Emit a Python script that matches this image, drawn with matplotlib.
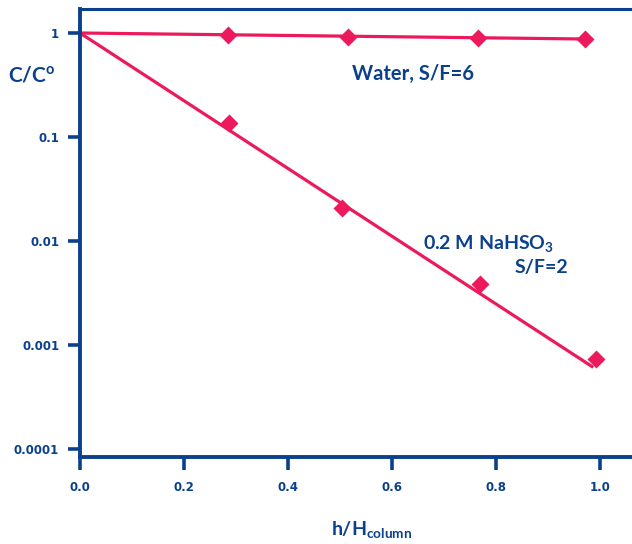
import matplotlib
matplotlib.use("Agg")
import matplotlib.pyplot as plt
from matplotlib.ticker import FixedLocator, FixedFormatter, NullLocator

plt.rcParams['mathtext.fontset'] = 'custom'
plt.rcParams['mathtext.rm'] = 'Lato:bold'
plt.rcParams['mathtext.it'] = 'Lato:bold'
plt.rcParams['mathtext.bf'] = 'Lato:bold'

# data
water_x = [0.285, 0.515, 0.765, 0.972]
water_y = [0.96, 0.92, 0.90, 0.88]
water_fit_x = [0.0, 0.975]
water_fit_y = [1.0, 0.875]

nahso3_x = [0.287, 0.504, 0.769, 0.992]
nahso3_y = [0.136, 0.0208, 0.00386, 0.00073]
nahso3_fit_x = [0.0, 0.987]
nahso3_fit_y = [1.0, 0.00061]

xticks = [0.0, 0.2, 0.4, 0.6, 0.8, 1.0]
xticklabels = ["0.0", "0.2", "0.4", "0.6", "0.8", "1.0"]
yticks = [1, 0.1, 0.01, 0.001, 0.0001]
yticklabels = ["1", "0.1", "0.01", "0.001", "0.0001"]

BLUE = '#0b408c'
PINK = '#ec1a5c'

fig = plt.figure(figsize=(6.32, 5.44), dpi=100)
ax = fig.add_axes([80/632, 1-457/544, 552/632, (457-9)/544])

ax.plot(water_fit_x, water_fit_y, color=PINK, lw=2.3, solid_capstyle='butt')
ax.plot(nahso3_fit_x, nahso3_fit_y, color=PINK, lw=2.3, solid_capstyle='butt')
ax.plot(water_x, water_y, 'D', color=PINK, ms=9, mec='none')
ax.plot(nahso3_x, nahso3_y, 'D', color=PINK, ms=9, mec='none')

ax.set_yscale('log')
ax.set_xlim(0, 552/520)
ax.set_ylim(10**(-4 - 8/104), 10**(24/104))

ax.xaxis.set_major_locator(FixedLocator(xticks))
ax.xaxis.set_major_formatter(FixedFormatter(xticklabels))
ax.yaxis.set_major_locator(FixedLocator(yticks))
ax.yaxis.set_major_formatter(FixedFormatter(yticklabels))
ax.yaxis.set_minor_locator(NullLocator())
ax.xaxis.set_minor_locator(NullLocator())

for s in ['left', 'bottom']:
    ax.spines[s].set_color(BLUE)
    ax.spines[s].set_linewidth(2.8)
ax.spines['top'].set_color(BLUE)
ax.spines['top'].set_linewidth(2.2)
ax.spines['right'].set_visible(False)

ax.tick_params(axis='both', colors=BLUE, length=9, width=2.6, direction='out')
ax.tick_params(axis='x', pad=8)
ax.tick_params(axis='y', pad=6)
for lab in ax.get_xticklabels() + ax.get_yticklabels():
    lab.set_fontweight('bold')
    lab.set_fontsize(8.5)
    lab.set_fontfamily('DejaVu Sans')
    lab.set_color(BLUE)

fig.text(8/632, 1-75/544, "C/C$^{\\mathrm{o}}$", color=BLUE, fontsize=15,
         fontweight='bold', family='Lato', ha='left', va='center')
fig.text(372/632, 1-530/544, "h/H$_{\\mathrm{column}}$", color=BLUE, fontsize=14,
         fontweight='bold', family='Lato', ha='center', va='center')

fig.text(352/632, 1-74/544, "Water, S/F=6", color=BLUE,
         fontsize=14.5, fontweight='bold', family='Lato', ha='left', va='center')
fig.text(423/632, 1-243/544, "0.2 M NaHSO$_3$", color=BLUE, fontsize=14,
         fontweight='bold', family='Lato', ha='left', va='center')
fig.text(568/632, 1-268/544, "S/F=2", color=BLUE, fontsize=14,
         fontweight='bold', family='Lato', ha='right', va='center')

fig.savefig('out.png', dpi=100)
